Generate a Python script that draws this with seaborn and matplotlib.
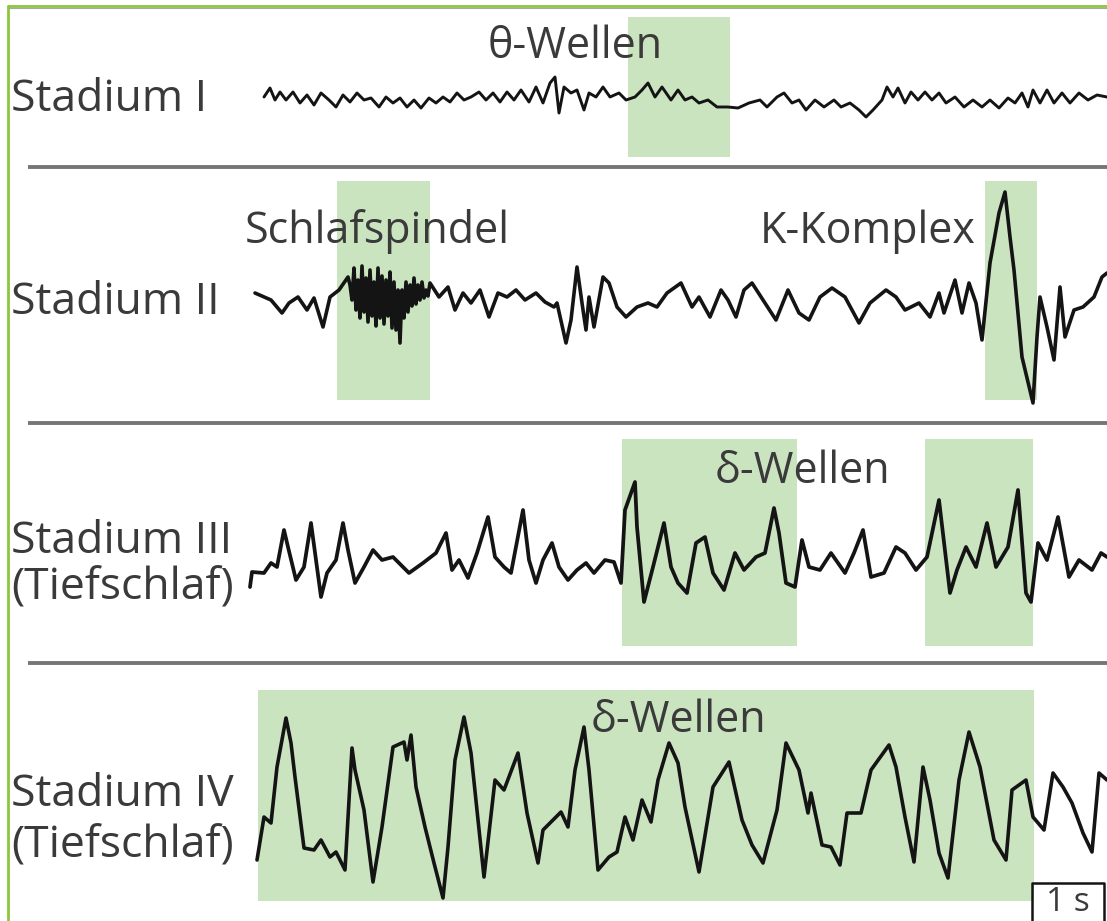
import matplotlib
matplotlib.use("Agg")
import matplotlib.pyplot as plt
import seaborn as sns
import pandas as pd

# ---------------- data ----------------
rows = ["Stadium I", "Stadium II", "Stadium III", "Stadium IV"]

t_I = [264, 270, 275, 280, 286, 293, 300, 307, 314, 321, 329, 336, 343, 350, 357, 364, 371, 379,
       386, 393, 400, 407, 414, 421, 429, 436, 443, 450, 457, 464, 471, 479, 486, 493, 500, 507,
       514, 521, 529, 536, 543, 550, 555, 559, 564, 571, 577, 584, 589, 596, 603, 610, 619, 626,
       635, 642, 648, 655, 662, 671, 678, 685, 692, 699, 708, 717, 728, 738, 749, 760, 767, 777,
       784, 792, 799, 806, 815, 824, 834, 841, 850, 859, 866, 873, 882, 887, 893, 898, 905, 911,
       918, 925, 932, 939, 946, 955, 964, 973, 982, 990, 999, 1008, 1015, 1022, 1028, 1033, 1040,
       1047, 1054, 1062, 1070, 1079, 1088, 1097, 1107]
v_I = [97, 88, 100, 92, 100, 92, 103, 95, 105, 93, 100, 107, 95, 102, 93, 100, 98, 107,
       97, 103, 98, 107, 100, 108, 98, 103, 97, 102, 93, 100, 97, 92, 100, 93, 102, 92,
       100, 90, 102, 87, 103, 83, 77, 113, 87, 93, 90, 110, 93, 97, 87, 97, 93, 100,
       97, 90, 83, 97, 87, 100, 90, 100, 97, 103, 100, 107, 107, 108, 103, 100, 107, 97,
       93, 103, 100, 110, 100, 107, 100, 107, 103, 110, 117, 110, 100, 87, 97, 88, 103, 92,
       100, 92, 100, 93, 103, 97, 107, 100, 107, 100, 108, 98, 103, 93, 107, 90, 103,
       90, 103, 93, 103, 93, 100, 95, 97]

t_II = [255, 271, 282, 289, 298, 307, 314, 323, 330, 339, 348, 350, 352, 354, 356, 358, 360,
        362, 364, 366, 368, 370, 372, 374, 376, 378, 380, 382, 384, 386, 388, 390, 392, 394,
        396, 398, 400, 402, 404, 406, 408, 410, 412, 414, 416, 418, 420, 422, 424, 426, 428,
        430, 439, 448, 455, 463, 471, 480, 489, 498, 507, 516, 525, 536, 545, 554, 557, 566,
        571, 577, 582, 586, 589, 594, 603, 609, 617, 626, 637, 648, 657, 667, 681, 692, 699,
        710, 721, 728, 736, 744, 752, 763, 776, 788, 799, 809, 820, 832, 845, 859, 870, 886,
        896, 905, 919, 930, 939, 944, 955, 962, 969, 976, 982, 990, 999, 1005, 1010, 1014,
        1022, 1033, 1037, 1040, 1047, 1054, 1060, 1065, 1074, 1083, 1094, 1102, 1107]
v_II = [293, 300, 313, 303, 297, 310, 298, 327, 297, 290, 277, 285, 300, 268, 310, 280, 318,
        266, 312, 278, 322, 270, 316, 282, 326, 268, 318, 276, 324, 280, 316, 272, 328, 282,
        330, 290, 343, 290, 318, 282, 312, 285, 306, 278, 304, 285, 300, 282, 298, 290, 296,
        283, 297, 287, 310, 293, 303, 290, 317, 293, 297, 290, 300, 293, 302, 307, 303, 343,
        320, 267, 303, 330, 297, 327, 277, 283, 307, 317, 307, 303, 307, 293, 283, 307, 297,
        317, 290, 300, 317, 290, 283, 300, 320, 290, 313, 320, 297, 288, 297, 323, 303, 290,
        297, 310, 303, 317, 293, 313, 280, 313, 283, 303, 340, 263, 213, 192, 237, 270,
        357, 403, 337, 297, 327, 360, 287, 337, 310, 307, 297, 277, 273]

t_III = [250, 252, 264, 271, 277, 284, 288, 296, 304, 311, 316, 321, 327, 336, 343, 348, 355,
         364, 373, 382, 393, 409, 423, 436, 446, 452, 459, 468, 477, 488, 495, 504, 511, 523,
         529, 536, 543, 552, 559, 568, 577, 586, 594, 605, 614, 621, 625, 635, 637, 644, 653,
         664, 671, 678, 687, 696, 705, 713, 724, 735, 744, 756, 765, 774, 779, 786, 795, 802,
         809, 820, 831, 845, 854, 863, 871, 884, 896, 905, 916, 927, 939, 950, 957, 966, 976,
         987, 996, 1008, 1018, 1026, 1031, 1038, 1047, 1058, 1069, 1079, 1092, 1101, 1107]
v_III = [587, 572, 573, 563, 567, 530, 547, 580, 567, 523, 560, 597, 573, 560, 523, 550, 583,
         567, 550, 560, 557, 573, 563, 553, 533, 570, 560, 578, 553, 517, 557, 567, 573, 510,
         560, 583, 560, 543, 567, 580, 570, 563, 573, 560, 562, 583, 510, 482, 527, 602, 567,
         523, 567, 583, 593, 543, 537, 573, 590, 553, 570, 557, 553, 508, 533, 583, 587, 540,
         567, 570, 553, 573, 553, 530, 577, 573, 547, 553, 570, 557, 500, 593, 570, 547, 567,
         523, 567, 547, 490, 593, 602, 543, 560, 517, 577, 560, 570, 553, 557]

t_IV = [257, 264, 271, 277, 286, 291, 295, 304, 314, 321, 330, 336, 345, 352, 355, 364, 373,
        382, 393, 404, 407, 411, 416, 425, 434, 443, 448, 455, 464, 471, 484, 495, 504, 518,
        527, 538, 543, 550, 561, 568, 575, 584, 589, 598, 609, 617, 625, 633, 642, 651, 658,
        669, 678, 685, 699, 713, 729, 742, 752, 763, 777, 786, 799, 808, 811, 822, 831, 840,
        847, 861, 871, 889, 896, 905, 914, 923, 930, 939, 948, 959, 969, 980, 994, 1006, 1012,
        1026, 1033, 1044, 1053, 1063, 1072, 1083, 1092, 1099, 1107]
v_IV = [860, 817, 823, 767, 718, 743, 777, 848, 850, 840, 857, 852, 870, 748, 770, 810, 882,
        827, 747, 742, 760, 735, 787, 827, 863, 898, 847, 760, 717, 753, 877, 780, 790, 753,
        813, 863, 830, 823, 812, 827, 770, 727, 770, 870, 857, 852, 817, 840, 800, 822, 780,
        743, 763, 807, 872, 787, 762, 820, 845, 863, 810, 743, 770, 813, 793, 845, 847, 865,
        813, 813, 770, 745, 767, 817, 862, 767, 800, 853, 878, 780, 732, 767, 840, 860, 790,
        780, 817, 830, 773, 787, 803, 833, 852, 773, 780]

traces = {"Stadium I": (t_I, v_I), "Stadium II": (t_II, v_II),
          "Stadium III": (t_III, v_III), "Stadium IV": (t_IV, v_IV)}

# highlighted intervals (start, end) on the time axis for each stage
spans = {"Stadium I": [(628, 730)],
         "Stadium II": [(337, 430), (985, 1037)],
         "Stadium III": [(622, 797), (925, 1033)],
         "Stadium IV": [(258, 1034)]}

row_labels = ["Stadium I", "Stadium II", "Stadium III\n(Tiefschlaf)", "Stadium IV\n(Tiefschlaf)"]
annotations = ["θ-Wellen", "Schlafspindel", "K-Komplex", "δ-Wellen", "δ-Wellen"]
scale_label = "1 s"

# ---------------- layout / style ----------------
W, H = 1107, 921
GREEN_FILL = "#cbe4c0"
BORDER_GREEN = "#8cc63f"
TEXT = "#3a3a3a"
INK = "#141414"

sns.set_theme(style="white")
plt.rcParams["font.family"] = ["Open Sans", "DejaVu Sans"]

fig = plt.figure(figsize=(W / 100, H / 100), dpi=100)
ax = fig.add_axes([0, 0, 1, 1])

# highlight bands (vertical extent per row)
band_y = {"Stadium I": (17, 157), "Stadium II": (181, 400),
          "Stadium III": (439, 646), "Stadium IV": (690, 901)}
for r in rows:
    y0, y1 = band_y[r]
    for (a, b) in spans[r]:
        ax.fill_between([a, b], [y0, y0], [y1, y1], color=GREEN_FILL, lw=0, zorder=1)

# traces
lws = {"Stadium I": 2.1, "Stadium II": 2.6, "Stadium III": 2.7, "Stadium IV": 2.6}
for r in rows:
    t, v = traces[r]
    df = pd.DataFrame({"t": t, "v": v})
    sns.lineplot(data=df, x="t", y="v", ax=ax, estimator=None, sort=False,
                 color=INK, lw=lws[r], zorder=3, solid_joinstyle="round",
                 solid_capstyle="round")
ax.set_xlim(0, W)
ax.set_ylim(H, 0)
ax.axis("off")

# separators
for y in (167, 423, 663):
    ax.plot([28, W], [y, y], color="#767676", lw=2.8, zorder=2, solid_capstyle="butt")

# green frame (top and left)
ax.plot([8, W], [6, 6], color=BORDER_GREEN, lw=2.0, zorder=5)
ax.plot([9, W], [8.5, 8.5], color="#a8a8a8", lw=0.8, zorder=5)
ax.plot([8, 8], [6, H], color=BORDER_GREEN, lw=2.0, zorder=5)

fs = 32
# row labels
label_pos = [(11, 111), (11, 314), (11, 553), (11, 806)]
line_gap = [0, 0, 46, 51]
for lab, (x, y), g in zip(row_labels, label_pos, line_gap):
    for i, ln in enumerate(lab.split("\n")):
        ax.text(x, y + i * g, ln, fontsize=fs, color=TEXT, ha="left", va="baseline", zorder=6)

# annotations
ann_pos = [(575, 58), (377, 243), (868, 243), (802, 483), (678, 732)]
for txt, (x, y) in zip(annotations, ann_pos):
    ax.text(x, y, txt, fontsize=31, color=TEXT, ha="center", va="baseline", zorder=6)

# 1 s scale box
ax.plot([1032, 1032, 1104, 1104], [H + 5, 883, 883, H + 5], color=INK, lw=1.8, zorder=6)
ax.text(1068, 919, scale_label, fontsize=24, color=TEXT, ha="center", va="bottom", zorder=6)

fig.savefig("out.png", dpi=100, facecolor="white")
